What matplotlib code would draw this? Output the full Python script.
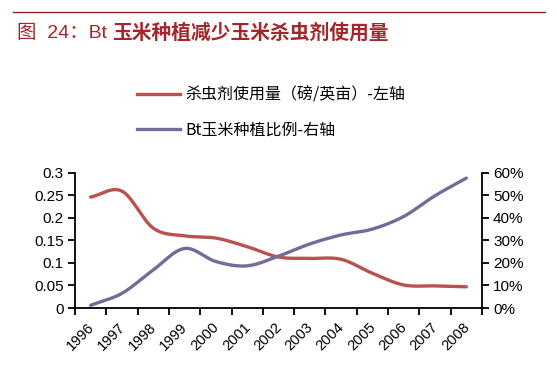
import numpy as np
import matplotlib
matplotlib.use("Agg")
import matplotlib.pyplot as plt
from matplotlib.lines import Line2D
from matplotlib.ticker import FuncFormatter, FixedLocator
import matplotlib.transforms as mtransforms

plt.rcParams['font.family'] = ['Liberation Sans', 'Noto Sans CJK SC', 'DejaVu Sans']

years = ['1996', '1997', '1998', '1999', '2000', '2001', '2002',
         '2003', '2004', '2005', '2006', '2007', '2008']
pesticide = [0.246, 0.259, 0.177, 0.160, 0.155, 0.136, 0.113,
             0.110, 0.108, 0.077, 0.051, 0.049, 0.047]
bt_share = [1.2, 6.5, 16.9, 26.4, 20.6, 18.7, 23.0,
            28.4, 32.4, 35.0, 40.6, 49.8, 57.6]  # percent

left_ticks = [0, 0.05, 0.1, 0.15, 0.2, 0.25, 0.3]
left_labels = ['0', '0.05', '0.1', '0.15', '0.2', '0.25', '0.3']
right_ticks = [0, 10, 20, 30, 40, 50, 60]

title_prefix = '图  24：Bt '
title_main = '玉米种植减少玉米杀虫剂使用量'
label_red = '杀虫剂使用量（磅/英亩）-左轴'
label_purple = 'Bt玉米种植比例-右轴'

RED = '#B9514F'
PURPLE = '#786A98'
TITLE_RED = '#A3262A'


def smooth(x, y, n=20):
    x = np.asarray(x, float)
    y = np.asarray(y, float)
    px = np.concatenate([[2 * x[0] - x[1]], x, [2 * x[-1] - x[-2]]])
    py = np.concatenate([[2 * y[0] - y[1]], y, [2 * y[-1] - y[-2]]])
    xs, ys = [], []
    for i in range(1, len(px) - 2):
        t = np.linspace(0, 1, n, endpoint=False)
        p0, p1, p2, p3 = [np.array([px[j], py[j]]) for j in range(i - 1, i + 3)]
        c1 = p1 + (p2 - p0) / 6
        c2 = p2 - (p3 - p1) / 6
        b = ((1 - t) ** 3)[:, None] * p1 + (3 * (1 - t) ** 2 * t)[:, None] * c1 + \
            (3 * (1 - t) * t ** 2)[:, None] * c2 + (t ** 3)[:, None] * p2
        xs.append(b[:, 0]); ys.append(b[:, 1])
    xs.append([x[-1]]); ys.append([y[-1]])
    return np.concatenate(xs), np.concatenate(ys)


fig = plt.figure(figsize=(5.57, 3.91), dpi=100)
fig.patch.set_facecolor('white')

L, R = 75 / 557, 482 / 557
B, T = 1 - 308 / 391, 1 - 172.7 / 391
ax = fig.add_axes([L, B, R - L, T - B])
ax2 = ax.twinx()

x = np.arange(len(years))
sx, sy = smooth(x, pesticide)
ax.plot(sx, sy, color=RED, lw=2.4, solid_capstyle='round', label=label_red, zorder=3)
sx2, sy2 = smooth(x, bt_share)
ax2.plot(sx2, sy2, color=PURPLE, lw=2.4, solid_capstyle='round', label=label_purple, zorder=3)

ax.set_xlim(-0.5, len(years) - 0.5)
ax.set_ylim(0, 0.3)
ax2.set_ylim(0, 60)

for a in (ax, ax2):
    a.spines['top'].set_visible(False)
    for s in a.spines.values():
        s.set_linewidth(1.3)
        s.set_color('black')
ax.spines['right'].set_visible(False)
ax2.spines['left'].set_visible(False)
ax2.spines['bottom'].set_visible(False)

ax.set_yticks(left_ticks)
ax.set_yticklabels(left_labels)
ax2.set_yticks(right_ticks)
ax2.yaxis.set_major_formatter(FuncFormatter(lambda v, p: f'{int(v)}%'))
ax.tick_params(axis='y', direction='out', length=5, width=1.3, labelsize=11, pad=3)
ax2.tick_params(axis='y', direction='out', length=5, width=1.3, labelsize=11, pad=3)

ax.set_xticks(np.arange(-0.5, len(years), 1.0))
ax.set_xticklabels([])
ax.xaxis.set_minor_locator(FixedLocator(x))
ax.set_xticklabels(years, minor=True)
ax.tick_params(axis='x', which='major', direction='out', length=5, width=1.3)
ax.tick_params(axis='x', which='minor', length=0, labelsize=10.5, pad=8.5)
offset = mtransforms.ScaledTranslation(-4 / 100, 0, fig.dpi_scale_trans)
for lab in ax.get_xticklabels(minor=True):
    lab.set_rotation(45)
    lab.set_ha('right')
    lab.set_va('top')
    lab.set_rotation_mode('anchor')
    lab.set_transform(lab.get_transform() + offset)

handles = [Line2D([0], [0], color=RED, lw=2.4), Line2D([0], [0], color=PURPLE, lw=2.4)]
fig.legend(handles, [label_red, label_purple], loc='upper left',
           bbox_to_anchor=(137 / 557, 1 - 87 / 391), frameon=False,
           prop={'family': ['Noto Sans CJK SC'], 'size': 11.5},
           handlelength=2.7, handletextpad=0.3, labelspacing=1.12,
           borderpad=0, borderaxespad=0)

fig.add_artist(Line2D([13 / 557, 545 / 557], [1 - 12 / 391] * 2, color='#8B2A2A', lw=1.0))
t1 = fig.text(17 / 557, 1 - 33 / 391, title_prefix, color=TITLE_RED, fontsize=14,
              family=['Liberation Sans', 'Noto Sans CJK SC', 'DejaVu Sans'],
              va='center', ha='left')
fig.canvas.draw()
bb = t1.get_window_extent()
fig.text(bb.x1 / fig.bbox.width, 1 - 33 / 391, title_main, color=TITLE_RED, fontsize=14.2,
         fontweight='bold', family=['Noto Sans CJK SC', 'DejaVu Sans'], va='center', ha='left')

fig.savefig('out.png', dpi=100, facecolor='white')
